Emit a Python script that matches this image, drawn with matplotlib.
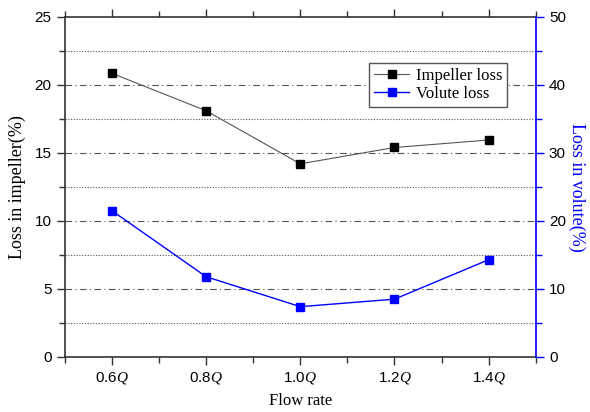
import matplotlib
matplotlib.use("Agg")
import matplotlib.pyplot as plt
from matplotlib.ticker import MultipleLocator

plt.rcParams['mathtext.fontset'] = 'custom'
plt.rcParams['mathtext.it'] = 'Liberation Serif:italic'
plt.rcParams['mathtext.rm'] = 'Liberation Sans'
plt.rcParams['font.family'] = ['Liberation Sans', 'DejaVu Sans']

flow = [0.6, 0.8, 1.0, 1.2, 1.4]
flow_labels = ["0.6$\\mathit{Q}$", "0.8$\\mathit{Q}$", "1.0$\\mathit{Q}$", "1.2$\\mathit{Q}$", "1.4$\\mathit{Q}$"]
impeller_loss = [20.85, 18.1, 14.2, 15.4, 15.95]
volute_loss = [21.5, 11.8, 7.4, 8.5, 14.3]

fig = plt.figure(figsize=(5.9, 4.12), dpi=100)
ax = fig.add_axes([0.110, 0.1335, 0.798, 0.8255])
ax2 = ax.twinx()

ax.set_xlim(0.5, 1.5)
ax.set_ylim(0, 25)
ax2.set_ylim(0, 50)

# grid lines
for y in [5, 10, 15, 20]:
    ax.axhline(y, color='#555555', lw=0.8, ls=(0, (6, 3, 1, 3)), zorder=0)
for y in [2.5, 7.5, 12.5, 17.5, 22.5]:
    ax.axhline(y, color='#555555', lw=0.8, ls=(0, (1, 1.5)), zorder=0)

l1, = ax.plot(flow, impeller_loss, color='#555555', lw=0.8, marker='s', ms=6,
              mfc='black', mec='black', label='Impeller loss', zorder=3)
l2, = ax2.plot(flow, volute_loss, color='blue', lw=1.0, marker='s', ms=6,
               mfc='blue', mec='blue', label='Volute loss', zorder=3)

ax.set_xticks(flow)
ax.set_xticklabels(flow_labels)
ax.xaxis.set_minor_locator(MultipleLocator(0.1))
ax.yaxis.set_major_locator(MultipleLocator(5))
ax.yaxis.set_minor_locator(MultipleLocator(2.5))
ax2.yaxis.set_major_locator(MultipleLocator(10))
ax2.yaxis.set_minor_locator(MultipleLocator(5))

ax.tick_params(axis='both', which='both', direction='out', labelsize=11)
ax.tick_params(axis='x', which='both', top=True, labeltop=False)
ax.tick_params(which='major', length=6, width=1, color='#333333')
ax.tick_params(which='minor', length=4, width=1, color='#333333')
ax2.tick_params(axis='y', which='both', direction='out', colors='blue', labelcolor='black', labelsize=11)
ax2.tick_params(which='major', length=6, width=1)
ax2.tick_params(which='minor', length=4, width=1)

for s in ['left', 'top', 'bottom']:
    ax.spines[s].set_color('#333333')
    ax.spines[s].set_linewidth(1.2)
ax2.spines['right'].set_color('blue')
ax2.spines['right'].set_linewidth(1.2)
ax2.spines['left'].set_visible(False)
ax2.spines['top'].set_visible(False)
ax2.spines['bottom'].set_visible(False)
ax.spines['right'].set_visible(False)

ax.set_xlabel('Flow rate', family='Liberation Serif', fontsize=12, labelpad=5)
ax.set_ylabel('Loss in impeller(%)', family='Liberation Serif', fontsize=13, labelpad=6)
ax2.set_ylabel('Loss in volute(%)', family='Liberation Serif', fontsize=13, color='blue',
               rotation=270, labelpad=14)

leg = ax2.legend([l1, l2], ['Impeller loss', 'Volute loss'], loc='upper right',
                 bbox_to_anchor=(0.94, 0.865), prop={'family': 'Liberation Serif', 'size': 12},
                 fancybox=False, edgecolor='#555555', framealpha=1, handlelength=2.1,
                 borderpad=0.3, labelspacing=0.15, handletextpad=0.4, borderaxespad=0)
leg.get_frame().set_linewidth(1.0)

fig.savefig('out.png', dpi=100)
